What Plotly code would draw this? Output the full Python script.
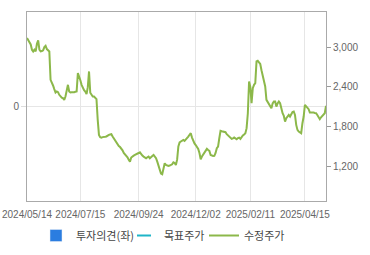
import pandas as pd
import plotly.graph_objects as go

# Korean exchange holidays inside the window (market closed)
holidays = [
    "2024-06-06", "2024-08-15", "2024-09-16", "2024-09-17", "2024-09-18",
    "2024-10-01", "2024-10-03", "2024-10-09", "2024-12-25", "2024-12-31",
    "2025-01-01", "2025-01-27", "2025-01-28", "2025-01-29", "2025-01-30",
    "2025-03-03", "2025-05-01", "2025-05-05", "2025-05-06",
]
trading_days = pd.bdate_range("2024-05-14", "2025-05-13")
trading_days = trading_days[~trading_days.isin(pd.to_datetime(holidays))]
dates = [d.strftime("%Y/%m/%d") for d in trading_days]

tick_labels = ["2024/05/14", "2024/07/15", "2024/09/24", "2024/12/02", "2025/02/11", "2025/04/15"]
price_ticks = [1200, 1800, 2400, 3000]

# 수정주가 (adjusted price), one value per trading day
adj_price = [
    3136, 3110, 3080, 3040, 2960, 2934, 2960, 2934, 3050, 3100,
    2960, 2934, 2940, 2950, 3000, 3020, 2970, 2950, 2934, 2506,
    2470, 2420, 2365, 2314, 2330, 2320, 2279, 2250, 2235, 2228,
    2203, 2254, 2380, 2430, 2329, 2314, 2318, 2314, 2318, 2325,
    2329, 2607, 2560, 2500, 2430, 2380, 2350, 2329, 2289, 2395,
    2632, 2310, 2280, 2254, 2254, 2240, 2213, 1900, 1674, 1640,
    1633, 1640, 1638, 1645, 1650, 1665, 1674, 1680, 1684, 1650,
    1620, 1590, 1555, 1530, 1505, 1490, 1470, 1440, 1400, 1380,
    1350, 1335, 1300, 1270, 1331, 1350, 1360, 1371, 1385, 1396,
    1400, 1411, 1380, 1361, 1346, 1335, 1321, 1335, 1346, 1321,
    1345, 1356, 1371, 1350, 1321, 1270, 1200, 1130, 1090, 1079,
    1195, 1245, 1220, 1210, 1205, 1210, 1220, 1230, 1260, 1250,
    1220, 1300, 1500, 1560, 1573, 1590, 1598, 1583, 1600, 1620,
    1648, 1675, 1699, 1633, 1580, 1545, 1520, 1497, 1462, 1400,
    1306, 1346, 1380, 1410, 1440, 1462, 1445, 1432, 1371, 1360,
    1356, 1358, 1400, 1472, 1497, 1623, 1734, 1728, 1724, 1718,
    1714, 1684, 1665, 1640, 1628, 1613, 1620, 1633, 1620, 1608,
    1625, 1633, 1613, 1648, 1665, 1680, 1699, 1775, 2000, 2480,
    2400, 2153, 2380, 2430, 2455, 2783, 2793, 2770, 2745, 2650,
    2560, 2480, 2405, 2203, 2170, 2140, 2112, 2077, 2150, 2178,
    2178, 2102, 2150, 2178, 2153, 2052, 2000, 1960, 1875, 1926,
    1960, 1976, 1951, 2001, 2020, 2027, 1976, 1825, 1749, 1724,
    1710, 1699, 1850, 1951, 2128, 2102, 2080, 2062, 2012, 2015,
    2012, 2010, 2005, 2001, 1975, 1951, 1911, 1940, 1961, 1976,
    2001, 2112,
]
n = min(len(dates), len(adj_price))
dates = dates[:n]
adj_price = adj_price[:n]

fig = go.Figure()
fig.add_trace(go.Bar(
    x=[dates[0]], y=[None], name="투자의견(좌)",
    marker=dict(color="#2b7de0"), yaxis="y", legend="legend",
))
fig.add_trace(go.Scatter(
    x=[dates[0]], y=[None], name="목표주가", mode="markers",
    marker=dict(symbol="line-ew", size=10, color="#1fb5c8",
                line=dict(color="#1fb5c8", width=2)),
    yaxis="y2", legend="legend2",
))
fig.add_trace(go.Scatter(
    x=dates, y=adj_price, name="수정주가", mode="lines",
    line=dict(color="#8cb84a", width=2), yaxis="y2", legend="legend3",
))

axis_font = dict(family="Liberation Sans, Arial, sans-serif", size=10, color="#666666")
legend_font = dict(family="Noto Sans CJK KR, sans-serif", size=11, color="#444444")


def legend_at(x_px):
    return dict(
        orientation="h", xref="container", yref="container",
        x=x_px / 370, xanchor="left", y=(255 - 221) / 255, yanchor="top",
        font=legend_font, itemwidth=30, bgcolor="rgba(0,0,0,0)",
    )


fig.update_layout(
    width=370, height=255,
    margin=dict(l=27, r=44, t=12, b=54, autoexpand=False),
    paper_bgcolor="white", plot_bgcolor="white",
    showlegend=True,
    bargap=0,
    xaxis=dict(
        type="category", categoryorder="array", categoryarray=dates,
        range=[0, n - 1], automargin=False,
        tickmode="array", tickvals=tick_labels, ticktext=tick_labels,
        tickangle=0, ticklabelstandoff=4,
        showgrid=True, gridcolor="#e6e6e6", gridwidth=1,
        showline=True, linecolor="#aaaaaa", linewidth=1, mirror=True,
        ticks="", tickfont=axis_font, zeroline=False,
    ),
    yaxis=dict(
        range=[-1, 1], tickmode="array", tickvals=[0], ticktext=["0"],
        automargin=False,
        showgrid=True, gridcolor="#e6e6e6", zeroline=False,
        showline=True, linecolor="#aaaaaa", linewidth=1,
        ticks="outside", ticklen=5, tickcolor="#dddddd",
        tickfont=axis_font,
    ),
    yaxis2=dict(
        overlaying="y", side="right", range=[675, 3530], automargin=False,
        tickmode="array", tickvals=price_ticks,
        ticktext=[f"{v:,}" for v in price_ticks],
        showgrid=False, zeroline=False,
        showline=True, linecolor="#aaaaaa", linewidth=1,
        ticks="outside", ticklen=4, tickcolor="#999999",
        tickfont=axis_font,
    ),
    legend=legend_at(36),
    legend2=legend_at(124),
    legend3=legend_at(204),
)

fig.write_html("out.html")
